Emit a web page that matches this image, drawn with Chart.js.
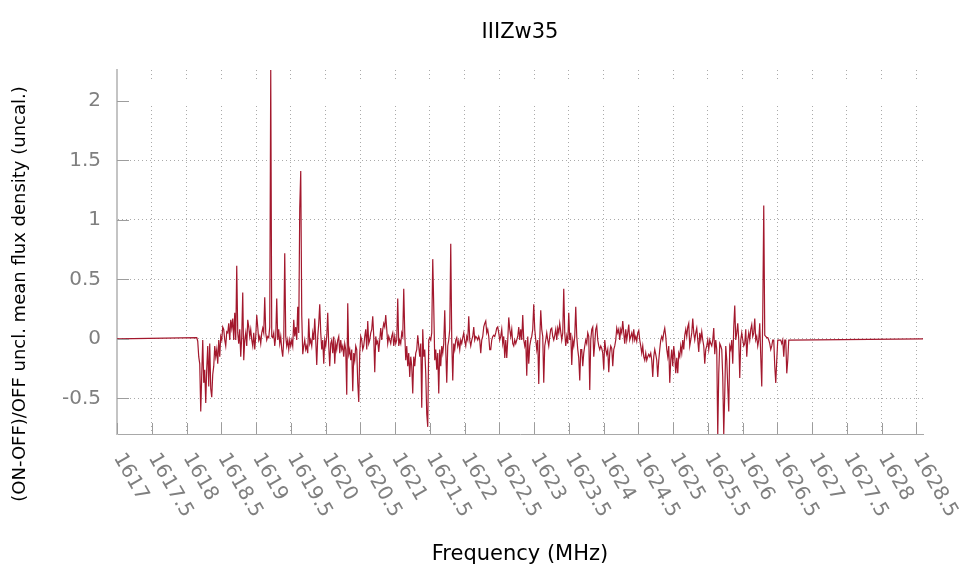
<!DOCTYPE html>
<html>
<head>
<meta charset="utf-8">
<title>IIIZw35</title>
<script src="https://cdn.jsdelivr.net/npm/chart.js@4.4.1/dist/chart.umd.min.js"></script>
<style>
  html, body { margin: 0; padding: 0; background: #fff; }
</style>
</head>
<body>
<canvas id="spec" width="968" height="572"></canvas>
<script>
const sourceName = 'IIIZw35';
const xTitle = 'Frequency (MHz)';
const yTitle = '(ON-OFF)/OFF uncl. mean flux density (uncal.)';

// band edges and channel grid, MHz
const bandStart = 1617.0;
const bandEnd = 1628.594;
const firstChan = 1618.147;
const chanWidth = 0.014385;
const yMin = -0.8;
const yMax = 2.26;

const xTicks = [1617, 1617.5, 1618, 1618.5, 1619, 1619.5, 1620, 1620.5, 1621, 1621.5, 1622, 1622.5,
                1623, 1623.5, 1624, 1624.5, 1625, 1625.5, 1626, 1626.5, 1627, 1627.5, 1628, 1628.5];
const yTicks = [-0.5, 0, 0.5, 1, 1.5, 2];

// ON-OFF spectrum, one value per channel, split in pieces of ~100 channels
const fluxA = [
  0.01, -0.02, -0.15, -0.21, -0.61, -0.30, -0.01, -0.37, -0.26, -0.54,
  -0.25, -0.06, -0.40, -0.04, -0.42, -0.49, -0.30, -0.23, -0.06, -0.15,
  -0.09, -0.21, -0.01, -0.15, 0.02, -0.01, 0.10, 0.08, -0.01, -0.06,
  0.06, 0.05, 0.13, -0.01, 0.16, 0.09, 0.17, -0.01, 0.22, -0.01,
  0.615, 0.05, -0.04, 0.08, -0.15, 0.02, 0.39, -0.18, -0.01, 0.05,
  -0.06, 0.16, 0.10, 0.02, 0.08, -0.01, -0.06, 0.05, -0.09, 0.02,
  0.20, 0.10, -0.01, 0.02, -0.04, 0.05, 0.09, 0.05, 0.35, 0.05,
  -0.01, 0.02, 0.01, 0.10, 2.26, 0.02, 0.01, 0.05, -0.06, 0.02,
  0.34, -0.01, 0.08, -0.04, 0.02, -0.09, -0.15, -0.01, 0.72, 0.02,
  -0.06, -0.01, -0.09, -0.01
];
const fluxB = [
  -0.06, -0.01, -0.06, 0.16, 0.02, 0.10, -0.01, 0.27, 0.05, 1.10,
  1.41, 0.20, -0.13, -0.06, -0.01, -0.09, -0.06, -0.12, 0.17, -0.04,
  -0.01, -0.06, 0.05, -0.01, 0.17, -0.01, -0.22, 0.02, 0.13, 0.29,
  0.05, -0.09, -0.01, -0.21, -0.01, -0.06, 0.02, 0.22, -0.06, -0.23,
  -0.04, -0.01, -0.12, 0.02, -0.21, -0.04, -0.09, -0.01, 0.02, -0.12,
  -0.01, -0.09, -0.06, -0.15, -0.04, -0.09, -0.47, 0.30, -0.13, -0.09,
  -0.18, -0.09, -0.44, -0.12, -0.18, -0.06, -0.09, -0.37, -0.53, -0.12,
  0.02, -0.01, -0.09, -0.06, 0.02, 0.08, -0.09, 0.15, -0.04, -0.01,
  0.05, 0.08, 0.19, 0.02, -0.28, 0.02, -0.04, -0.02, -0.11, -0.01,
  0.09, -0.01, 0.08, 0.13, 0.10, 0.20, 0.08, -0.04, 0.02, -0.01
];
const fluxC = [
  -0.04, 0.02, 0.05, -0.06, 0.02, -0.04, -0.01, 0.34, -0.06, -0.01,
  -0.04, 0.05, 0.02, 0.42, 0.05, -0.18, -0.06, -0.23, -0.12, -0.32,
  -0.15, -0.23, -0.46, -0.15, -0.23, -0.12, -0.09, 0.03, -0.06, -0.15,
  -0.04, -0.58, 0.08, -0.15, -0.09, -0.29, -0.63, -0.74, -0.01, 0.01,
  -0.01, 0.05, 0.67, 0.27, -0.18, -0.09, -0.26, -0.12, -0.46, -0.09,
  -0.23, -0.06, -0.12, -0.04, 0.24, -0.09, -0.37, -0.06, -0.01, 0.08,
  0.80, -0.01, -0.35, -0.04, -0.09, -0.01, 0.01, -0.06, -0.02, -0.09,
  -0.01, -0.04, 0.01, 0.05, -0.02, -0.06, 0.02, -0.01, 0.19, -0.01,
  -0.06, -0.01, 0.02, 0.10, -0.01, 0.02, 0.01, -0.01, 0.02, -0.01,
  -0.12, -0.01, 0.02, 0.10, 0.13, 0.15, 0.05, 0.08, 0.02, -0.09
];
const fluxD = [
  -0.09, -0.01, 0.02, 0.03, 0.02, 0.05, 0.09, 0.10, 0.05, -0.01,
  0.02, 0.08, -0.04, 0.02, -0.16, -0.01, -0.16, -0.01, 0.18, 0.08,
  0.02, 0.08, -0.04, -0.06, -0.01, -0.04, -0.01, 0.02, 0.10, -0.01,
  0.08, -0.01, 0.20, -0.01, -0.06, -0.01, -0.31, 0.02, -0.21, -0.06,
  -0.01, 0.02, 0.08, 0.29, 0.08, -0.01, -0.09, -0.01, -0.38, -0.01,
  0.24, 0.08, 0.02, -0.37, -0.06, -0.01, 0.05, -0.01, -0.06, 0.02,
  0.08, 0.09, 0.02, -0.01, 0.03, 0.08, -0.01, 0.09, 0.05, 0.13,
  0.06, -0.01, 0.05, 0.42, 0.05, -0.06, 0.02, -0.04, 0.22, -0.01,
  0.05, -0.22, -0.01, -0.06, 0.02, 0.27, 0.02, -0.09, -0.16, -0.35,
  -0.09, -0.09, -0.23, -0.12, -0.06, -0.01, -0.04, 0.05, 0.02, -0.43
];
const fluxE = [
  -0.01, 0.08, 0.10, -0.15, -0.04, 0.08, 0.11, -0.01, -0.06, -0.09,
  -0.06, -0.08, -0.12, -0.26, -0.01, -0.09, -0.13, -0.09, -0.28, -0.12,
  -0.06, -0.08, -0.23, -0.09, -0.06, -0.01, 0.09, 0.05, 0.08, -0.01,
  0.08, 0.05, 0.15, 0.05, -0.04, 0.08, -0.01, 0.05, 0.12, -0.01,
  0.02, 0.05, -0.01, 0.08, -0.01, 0.02, -0.02, 0.05, 0.07, -0.01,
  -0.06, -0.12, -0.06, -0.15, -0.18, -0.12, -0.18, -0.15, -0.13, -0.15,
  -0.12, -0.18, -0.32, -0.15, -0.09, -0.13, -0.18, -0.32, -0.18, -0.09,
  -0.01, 0.02, -0.01, 0.05, 0.09, 0.02, -0.09, -0.15, -0.06, -0.37,
  -0.18, -0.09, -0.23, -0.06, -0.15, -0.29, -0.16, -0.29, -0.12, -0.15,
  -0.06, -0.12, -0.01, -0.09, 0.03, 0.08, 0.02, 0.10, 0.13, -0.06
];
const fluxF = [
  -0.01, 0.05, 0.17, 0.05, -0.01, 0.05, 0.09, -0.01, -0.11, 0.05,
  -0.01, 0.06, -0.01, -0.06, -0.21, -0.09, -0.06, -0.01, -0.09, -0.01,
  -0.04, -0.06, -0.01, 0.09, -0.13, -0.01, -0.09, -0.81, -0.29, -0.04,
  -0.06, -0.09, -0.32, -0.80, -0.46, -0.06, -0.18, -0.40, -0.61, -0.06,
  -0.09, -0.01, -0.21, 0.10, 0.28, -0.01, 0.05, 0.13, -0.01, -0.33,
  -0.01, 0.05, -0.01, -0.06, -0.04, 0.08, -0.15, -0.01, 0.05, -0.01,
  0.08, 0.12, 0.02, 0.05, 0.17, -0.01, 0.02, -0.06, -0.01, 0.13,
  -0.15, -0.40, 0.20, 1.12, 0.03, 0.02, 0.01, 0.01, -0.01, -0.04,
  -0.09, -0.06, -0.01, -0.01, -0.23, -0.37, -0.18, -0.01, -0.01, -0.01,
  -0.01, -0.04, -0.01, -0.15, -0.01, -0.01, -0.29, -0.18, -0.01
];

const lineColor = '#a3182d';
const FONT = '"DejaVu Sans", sans-serif';

const flux = [].concat(fluxA, fluxB, fluxC, fluxD, fluxE, fluxF);
// blanked channels outside the window sit at zero
const points = [{ x: bandStart, y: 0 }]
  .concat(flux.map((v, i) => ({ x: firstChan + i * chanWidth, y: v })))
  .concat([{ x: bandEnd, y: 0 }]);

/* empty key band near the top: the grid is not drawn there */
const keyGap = {
  id: 'keyGap',
  beforeDatasetsDraw(chart) {
    const { ctx, chartArea: a } = chart;
    ctx.save();
    ctx.fillStyle = '#fff';
    ctx.fillRect(a.left + 1, 81, a.right - a.left - 1, 24);
    ctx.restore();
  }
};

/* ticks pointing into the plot, slanted x labels, titles */
const axisDecor = {
  id: 'axisDecor',
  afterDraw(chart) {
    const { ctx, chartArea: a, scales: { x, y } } = chart;
    ctx.save();

    ctx.strokeStyle = '#9d9d9d';
    ctx.lineWidth = 1;
    ctx.beginPath();
    xTicks.forEach(v => {
      const px = Math.round(x.getPixelForValue(v)) + 0.5;
      ctx.moveTo(px, a.bottom);
      ctx.lineTo(px, a.bottom - 11);
    });
    yTicks.forEach(v => {
      const py = Math.round(y.getPixelForValue(v)) + 0.5;
      ctx.moveTo(a.left, py);
      ctx.lineTo(a.left + 12, py);
    });
    ctx.stroke();

    ctx.font = '20px ' + FONT;
    ctx.fillStyle = '#7f7f7f';
    ctx.textBaseline = 'middle';
    ctx.textAlign = 'right';
    yTicks.forEach(v => ctx.fillText(String(v), a.left - 16, y.getPixelForValue(v)));

    ctx.textAlign = 'left';
    xTicks.forEach(v => {
      ctx.save();
      ctx.translate(x.getPixelForValue(v) + 1, a.bottom + 21);
      ctx.rotate(Math.PI / 3);
      ctx.fillText(String(v), 0, 0);
      ctx.restore();
    });

    ctx.fillStyle = '#000';
    ctx.textAlign = 'center';
    const cx = (a.left + a.right) / 2;
    ctx.font = '21px ' + FONT;
    ctx.fillText(sourceName, cx, 33);
    ctx.fillText(xTitle, cx, 555);
    ctx.font = '18px ' + FONT;
    ctx.translate(20, 294);
    ctx.rotate(-Math.PI / 2);
    ctx.fillText(yTitle, 0, 0);
    ctx.restore();
  }
};

new Chart(document.getElementById('spec'), {
  type: 'line',
  data: {
    datasets: [{
      data: points,
      borderColor: lineColor,
      borderWidth: 1.2,
      pointRadius: 0,
      tension: 0,
      fill: false
    }]
  },
  options: {
    responsive: false,
    animation: false,
    devicePixelRatio: 1,
    layout: { padding: { left: 117, right: 45, top: 70, bottom: 138 } },
    plugins: {
      legend: { display: false },
      tooltip: { enabled: false },
      title: { display: false }
    },
    scales: {
      x: {
        type: 'linear',
        min: bandStart,
        max: bandEnd,
        afterBuildTicks: s => { s.ticks = xTicks.map(v => ({ value: v })); },
        ticks: { display: false },
        grid: { color: '#aaaaaa', drawTicks: false },
        border: { color: '#a8a8a8', width: 1, dash: [1, 3] }
      },
      y: {
        type: 'linear',
        min: yMin,
        max: yMax,
        afterBuildTicks: s => { s.ticks = yTicks.map(v => ({ value: v })); },
        ticks: { display: false },
        grid: { color: '#aaaaaa', drawTicks: false },
        border: { color: '#c4c4c4', width: 2, dash: [1, 3] }
      }
    }
  },
  plugins: [keyGap, axisDecor]
});
</script>
</body>
</html>
